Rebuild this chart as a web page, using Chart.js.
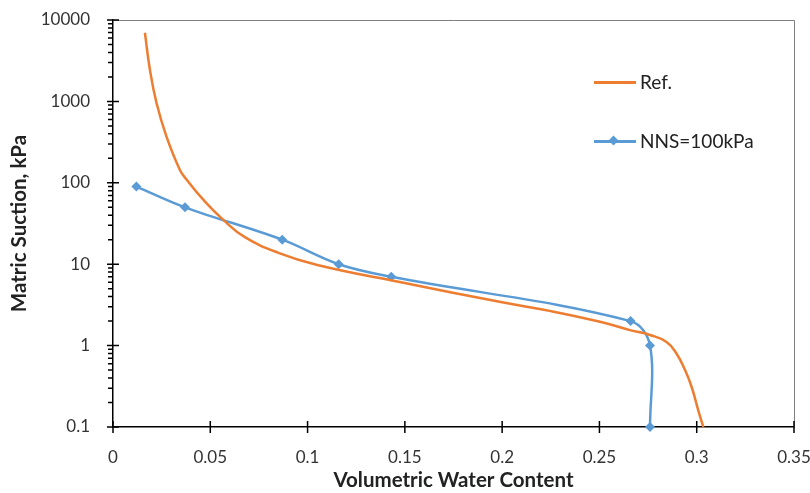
<!DOCTYPE html>
<html>
<head>
<meta charset="utf-8">
<script src="https://cdn.jsdelivr.net/npm/chart.js@4"></script>
<style>
  html, body { margin: 0; padding: 0; background: #fff; }
  #wrap { position: relative; width: 810px; height: 493px; }
  #legend { position: absolute; left: 594px; top: 69px; font: 19px Lato, sans-serif; color: #222; }
  .item { position: relative; height: 26px; line-height: 26px; padding-left: 46px; margin-bottom: 33px; }
  .item .ln { position: absolute; left: 0; top: 12px; width: 42px; height: 3px; }
  .item .dm { position: absolute; left: 16px; top: 9px; width: 7px; height: 7px; transform: rotate(45deg); }
</style>
</head>
<body>
<div id="wrap">
  <canvas id="c" width="810" height="493"></canvas>
  <div id="legend">
    <div class="item"><span class="ln" style="background:#ED7D31"></span>Ref.</div>
    <div class="item"><span class="ln" style="background:#5B9BD5"></span><span class="dm" style="background:#5B9BD5"></span>NNS=100kPa</div>
  </div>
</div>
<script>
// reference curve (no markers)
const refX = [0.0164, 0.019, 0.0224, 0.0275, 0.0344, 0.0379, 0.0464, 0.0567, 0.0678, 0.085, 0.105, 0.148, 0.2, 0.225, 0.2503, 0.2657, 0.276, 0.2845, 0.2896, 0.294, 0.2974, 0.3008, 0.3034];
const refY = [6980, 2430, 950, 370, 144, 109, 62, 35, 21.5, 13.8, 9.8, 6, 3.4, 2.65, 1.96, 1.55, 1.35, 1.11, 0.8, 0.5, 0.31, 0.16, 0.1];

// NNS=100kPa series
const nnsX = [0.012, 0.037, 0.087, 0.116, 0.143, 0.266, 0.276, 0.276];
const nnsY = [90, 50, 20, 10, 7, 2, 1, 0.1];

const xTicks = [0, 0.05, 0.1, 0.15, 0.2, 0.25, 0.3, 0.35];
const yTicks = [0.1, 1, 10, 100, 1000, 10000];

const pts = (xs, ys) => xs.map((x, i) => ({x: x, y: ys[i]}));

// tick marks + top/right frame, drawn through the chart's own scales
const frame = {
  id: "frame",
  afterDraw(chart) {
    const {ctx, chartArea: a, scales: {x, y}} = chart;
    ctx.save();
    ctx.strokeStyle = "#7f7f7f";
    ctx.lineWidth = 1;
    ctx.beginPath();
    ctx.moveTo(a.left, a.top + 0.5);
    ctx.lineTo(a.right + 0.5, a.top + 0.5);
    ctx.lineTo(a.right + 0.5, a.bottom);
    ctx.stroke();

    ctx.strokeStyle = "#000";
    ctx.lineWidth = 1.5;
    ctx.beginPath();
    xTicks.forEach(v => {
      const px = x.getPixelForValue(v);
      ctx.moveTo(px, a.bottom - 6);
      ctx.lineTo(px, a.bottom + 6);
    });
    yTicks.forEach((v, i) => {
      const py = y.getPixelForValue(v);
      ctx.moveTo(a.left - 6, py);
      ctx.lineTo(a.left + 6, py);
      if (i < yTicks.length - 1) {
        for (let k = 2; k <= 9; k++) {
          const pm = y.getPixelForValue(v * k);
          ctx.moveTo(a.left - 5, pm);
          ctx.lineTo(a.left, pm);
        }
      }
    });
    ctx.stroke();
    ctx.restore();
  }
};

new Chart(document.getElementById("c"), {
  type: "scatter",
  data: {
    datasets: [
      {
        label: "Ref.",
        data: pts(refX, refY),
        showLine: true,
        borderColor: "#ED7D31",
        borderWidth: 2.5,
        pointRadius: 0,
        tension: 0.45,
        clip: false
      },
      {
        label: "NNS=100kPa",
        data: pts(nnsX, nnsY),
        showLine: true,
        borderColor: "#5B9BD5",
        backgroundColor: "#5B9BD5",
        borderWidth: 2.5,
        pointStyle: "rectRot",
        pointRadius: 5,
        pointBorderWidth: 0,
        tension: 0.35,
        clip: false
      }
    ]
  },
  options: {
    responsive: false,
    animation: false,
    layout: { padding: { top: 20, right: 16, left: 0, bottom: 0 } },
    plugins: { legend: { display: false }, tooltip: { enabled: false } },
    scales: {
      x: {
        type: "linear",
        min: 0,
        max: 0.35,
        afterBuildTicks: s => { s.ticks = xTicks.map(v => ({value: v})); },
        afterFit: s => { s.height = 66; s.paddingLeft = 0; s.paddingRight = 0; },
        grid: { display: false },
        border: { color: "#000", width: 1.5 },
        ticks: {
          color: "#333",
          font: { family: "Lato", size: 17 },
          padding: 12,
          autoSkip: false,
          maxRotation: 0,
          callback: v => String(parseFloat(Number(v).toFixed(2)))
        },
        title: {
          display: true,
          text: "Volumetric Water Content",
          color: "#222",
          font: { family: "Lato", size: 20.5, weight: "bold" },
          padding: { top: 0, bottom: 0 }
        }
      },
      y: {
        type: "logarithmic",
        min: 0.1,
        max: 10000,
        afterBuildTicks: s => { s.ticks = yTicks.map(v => ({value: v})); },
        afterFit: s => { s.width = 113; s.paddingTop = 0; s.paddingBottom = 0; },
        grid: { display: false },
        border: { color: "#000", width: 1.5 },
        ticks: {
          color: "#333",
          font: { family: "Lato", size: 17 },
          padding: 15,
          autoSkip: false,
          callback: v => String(v)
        },
        title: {
          display: true,
          text: "Matric Suction, kPa",
          color: "#222",
          font: { family: "Lato", size: 20.5, weight: "bold" },
          padding: { top: 7, bottom: 0 }
        }
      }
    }
  },
  plugins: [frame]
});
</script>
</body>
</html>
